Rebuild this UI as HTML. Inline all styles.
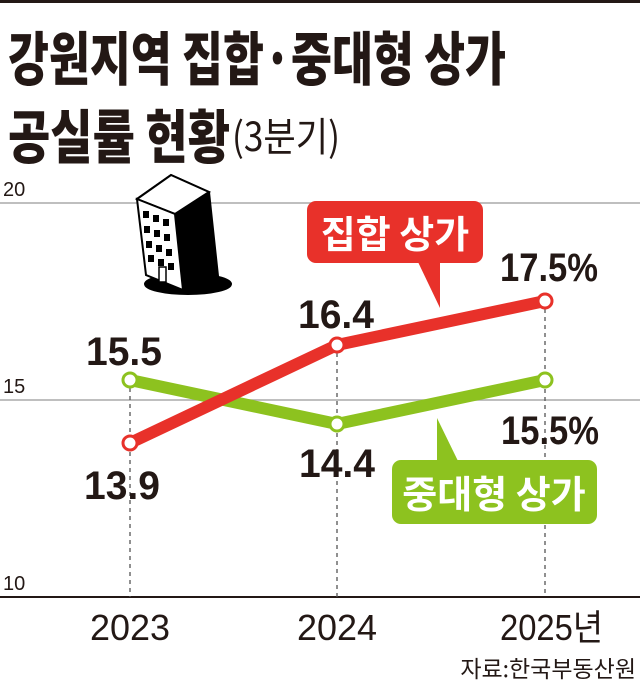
<!DOCTYPE html>
<html><head><meta charset="utf-8"><style>
html,body{margin:0;padding:0;background:#fff;}
svg{display:block}
text{font-family:"Liberation Sans","Noto Sans CJK KR",sans-serif;}
</style></head><body>
<svg width="640" height="686" viewBox="0 0 640 686" xmlns="http://www.w3.org/2000/svg">
<rect x="0" y="0" width="640" height="3" fill="#231815"/>
<text x="8" y="80" font-size="58" font-weight="900" fill="#231815" textLength="498" lengthAdjust="spacingAndGlyphs" style="font-family:'Noto Sans CJK KR',sans-serif">강원지역 집합·중대형 상가</text>
<text x="8" y="158" font-size="58" font-weight="900" fill="#231815" textLength="222" lengthAdjust="spacingAndGlyphs" style="font-family:'Noto Sans CJK KR',sans-serif">공실률 현황</text>
<text x="232" y="151" font-size="40" font-weight="400" fill="#231815" textLength="108" lengthAdjust="spacingAndGlyphs" style="font-family:'Noto Sans CJK KR',sans-serif">(3분기)</text>

<line x1="0" y1="203" x2="640" y2="203" stroke="#aaa" stroke-width="1.5"/>
<line x1="0" y1="400" x2="640" y2="400" stroke="#aaa" stroke-width="1.5"/>
<line x1="0" y1="597" x2="640" y2="597" stroke="#231815" stroke-width="2"/>
<text x="3" y="196" font-size="20" fill="#231815">20</text>
<text x="3" y="393" font-size="20" fill="#231815">15</text>
<text x="3" y="590" font-size="20" fill="#231815">10</text>

<g stroke="#555" stroke-width="1.3" stroke-dasharray="4,4">
<line x1="130" y1="380" x2="130" y2="597"/>
<line x1="337" y1="345" x2="337" y2="597"/>
<line x1="545" y1="301" x2="545" y2="597"/>
</g>

<g stroke="#000" stroke-width="2">
<ellipse cx="188" cy="284" rx="43" ry="10" fill="#000"/>
<polygon points="137,199 171,175 209,192 218,276 183,290" fill="#000"/>
<polygon points="137,199 171,175 209,192 175,214" fill="#fff"/>
<polygon points="137,199 175,214 183,290 146,275" fill="#fff"/>
</g>
<g fill="#000">
<rect x="143" y="211" width="6" height="7"/><rect x="153" y="215" width="6" height="7"/><rect x="163" y="219" width="6" height="7"/>
<rect x="144" y="226" width="6" height="7"/><rect x="154" y="230" width="6" height="7"/><rect x="164" y="234" width="6" height="7"/>
<rect x="146" y="241" width="6" height="7"/><rect x="156" y="245" width="6" height="7"/><rect x="166" y="249" width="6" height="7"/>
<rect x="148" y="255" width="6" height="7"/><rect x="158" y="259" width="6" height="7"/><rect x="168" y="263" width="6" height="7"/>
</g>
<rect x="159" y="267" width="7" height="15" fill="#fff" stroke="#000" stroke-width="1.5"/>

<polyline points="130,380 337,424 545,380" fill="none" stroke="#8dc21f" stroke-width="12" stroke-linejoin="round"/>
<polyline points="130,443 337,345 545,301" fill="none" stroke="#e8312a" stroke-width="12" stroke-linejoin="round"/>

<g stroke-width="3" fill="#fff">
<circle cx="130" cy="380" r="7" stroke="#8dc21f"/>
<circle cx="337" cy="424" r="7" stroke="#8dc21f"/>
<circle cx="545" cy="380" r="7" stroke="#8dc21f"/>
<circle cx="130" cy="443" r="7" stroke="#e8312a"/>
<circle cx="337" cy="345" r="7" stroke="#e8312a"/>
<circle cx="545" cy="301" r="7" stroke="#e8312a"/>
</g>

<rect x="307" y="201" width="176" height="62" rx="9" fill="#e8312a"/>
<polygon points="418,262 440,262 440,308" fill="#e8312a"/>
<text x="395" y="248" font-size="38" font-weight="700" fill="#fff" text-anchor="middle" style="font-family:'Noto Sans CJK KR',sans-serif">집합 상가</text>

<rect x="392" y="460" width="205" height="64" rx="9" fill="#8dc21f"/>
<polygon points="437,418 437,461 458,461" fill="#8dc21f"/>
<text x="494" y="508" font-size="38" font-weight="700" fill="#fff" text-anchor="middle" style="font-family:'Noto Sans CJK KR',sans-serif">중대형 상가</text>

<g font-size="40" font-weight="700" fill="#231815" text-anchor="middle">
<text x="124" y="365" textLength="76" lengthAdjust="spacingAndGlyphs">15.5</text>
<text x="122" y="499" textLength="76" lengthAdjust="spacingAndGlyphs">13.9</text>
<text x="336" y="328" textLength="76" lengthAdjust="spacingAndGlyphs">16.4</text>
<text x="337" y="477" textLength="76" lengthAdjust="spacingAndGlyphs">14.4</text>
<text x="549" y="281" textLength="98" lengthAdjust="spacingAndGlyphs">17.5%</text>
<text x="550" y="444" textLength="98" lengthAdjust="spacingAndGlyphs">15.5%</text>
</g>

<g font-size="36" fill="#231815" text-anchor="middle">
<text x="130" y="640" textLength="80" lengthAdjust="spacingAndGlyphs">2023</text>
<text x="337" y="640" textLength="80" lengthAdjust="spacingAndGlyphs">2024</text>
</g>
<text x="500" y="640" font-size="36" fill="#231815" textLength="103" lengthAdjust="spacingAndGlyphs">2025년</text>
<text x="636" y="677" font-size="23" fill="#231815" text-anchor="end" style="font-family:'Noto Sans CJK KR',sans-serif">자료:한국부동산원</text>
</svg>
</body></html>
